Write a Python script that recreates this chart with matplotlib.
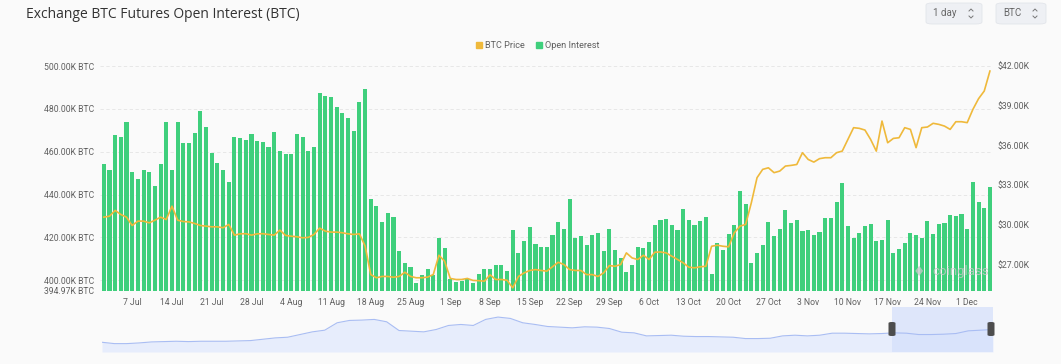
"""Exchange BTC futures open interest vs BTC price (coinglass style)."""

import matplotlib
matplotlib.use("Agg")
import matplotlib.pyplot as plt
import numpy as np
import pandas as pd
from matplotlib.lines import Line2D
from matplotlib.patches import FancyBboxPatch, Rectangle

# ---- data ----
dates = pd.date_range("2023-07-02", "2023-12-05", freq="D")

open_interest_k = [
    # Jul 2 - Jul 31
    454.2, 451.4, 467.6, 467.0, 473.8, 450.6, 447.2, 451.4, 450.3, 443.9,
    454.1, 473.8, 451.4, 473.8, 463.9, 463.9, 468.5, 479.1, 471.3, 459.5,
    454.5, 451.4, 445.9, 466.7, 466.4, 465.4, 468.4, 465.1, 464.3, 462.1,
    # Aug
    469.3, 460.4, 458.7, 458.9, 468.1, 466.7, 460.4, 462.0, 487.2, 486.1,
    485.3, 480.7, 477.9, 475.9, 469.6, 483.0, 489.1, 437.7, 434.6, 427.1,
    431.5, 429.3, 413.7, 408.1, 406.1, 398.9, 402.5, 405.1, 402.3, 419.8,
    415.0,
    # Sep
    400.6, 399.1, 399.5, 400.5, 398.7, 402.8, 405.1, 405.3, 407.0, 407.0,
    404.2, 423.5, 412.9, 418.1, 424.8, 416.7, 415.6, 415.6, 420.9, 427.1,
    423.8, 437.9, 419.8, 420.6, 416.5, 420.9, 422.1, 413.7, 423.8, 413.9,
    # Oct
    410.4, 403.7, 407.0, 415.6, 415.0, 417.9, 425.7, 428.0, 428.5, 425.7,
    423.4, 433.3, 428.0, 426.0, 427.6, 429.3, 402.8, 417.6, 414.0, 421.6,
    425.7, 441.7, 435.8, 408.1, 412.8, 416.4, 427.1, 420.6, 424.1, 432.7,
    426.5,
    # Nov
    428.0, 423.0, 423.4, 421.0, 422.6, 429.0, 429.1, 436.6, 445.3, 425.4,
    419.6, 422.1, 425.4, 426.2, 418.5, 418.7, 428.0, 412.9, 414.6, 417.3,
    422.0, 421.0, 419.6, 427.6, 421.6, 426.3, 426.5, 430.5, 429.9, 430.7,
    # Dec 1 - Dec 5
    423.7, 445.7, 436.6, 433.5, 443.3,
]

btc_price_k = [
    # Jul 2 - Jul 31
    30.58, 30.65, 31.09, 30.78, 30.58, 29.95, 30.28, 30.28, 30.15, 30.35,
    30.58, 30.40, 31.41, 30.35, 30.25, 30.22, 30.10, 29.95, 29.90, 29.85,
    29.85, 29.78, 30.03, 29.22, 29.32, 29.33, 29.22, 29.32, 29.33, 29.27,
    # Aug
    29.22, 29.60, 29.20, 29.14, 29.10, 29.02, 29.05, 29.27, 29.75, 29.52,
    29.45, 29.45, 29.40, 29.32, 29.27, 29.32, 28.40, 26.24, 26.00, 26.10,
    26.10, 26.04, 26.10, 26.42, 26.10, 26.00, 26.00, 26.05, 26.24, 27.70,
    27.25,
    # Sep
    25.95, 25.87, 25.87, 25.95, 25.80, 25.78, 25.74, 26.22, 25.87, 25.87,
    25.81, 25.24, 26.10, 26.37, 26.55, 26.62, 26.55, 26.50, 26.83, 27.17,
    27.00, 26.62, 26.55, 26.55, 26.24, 26.24, 26.10, 26.37, 26.92, 26.87,
    # Oct
    27.00, 27.88, 27.50, 27.38, 27.70, 27.38, 27.93, 27.95, 27.88, 27.63,
    27.38, 27.13, 26.80, 26.75, 26.83, 26.87, 28.38, 28.46, 28.38, 28.34,
    29.40, 29.90, 30.03, 31.67, 33.56, 34.19, 34.31, 33.94, 34.06, 34.44,
    34.49,
    # Nov
    34.56, 35.45, 34.94, 34.74, 35.00, 35.07, 35.07, 35.45, 35.57, 36.45,
    37.34, 37.29, 37.16, 36.45, 35.57, 37.84, 36.20, 36.53, 36.58, 37.34,
    37.21, 35.83, 37.34, 37.39, 37.67, 37.59, 37.46, 37.21, 37.79, 37.79,
    # Dec 1 - Dec 5
    37.72, 38.72, 39.53, 40.11, 41.62,
]

oi_ticks = [394.97, 400, 420, 440, 460, 480, 500]
price_ticks = [27, 30, 33, 36, 39, 42]
week_ticks = pd.date_range("2023-07-07", "2023-12-01", freq="7D")

# overview strip under the chart (relative height, evenly spaced samples)
overview = [
    29, 25, 25, 27, 30, 31, 32, 31, 32, 32, 32, 33, 34, 38, 42, 44, 52, 60,
    65, 87, 94, 95, 97, 90, 64, 62, 60, 67, 79, 82, 79, 97, 104, 100, 87, 82,
    76, 74, 72, 75, 74, 70, 59, 57, 48, 49, 50, 47, 46, 46, 45, 44, 40, 40,
    41, 48, 50, 48, 50, 56, 56, 55, 54, 55, 57, 56, 52, 52, 53, 55, 63, 65,
    67,
]

GREEN = "#3fcf7c"
GOLD = "#efb93b"
BG = "#fafafa"
TXT = "#5f5f5f"
W, H = 1061, 364


def box(x0, y0, x1, y1):
    return [x0 / W, 1 - y1 / H, (x1 - x0) / W, (y1 - y0) / H]


plt.rcParams["font.family"] = ["Roboto", "DejaVu Sans"]
fig = plt.figure(figsize=(W / 100, H / 100), dpi=100, facecolor=BG)

ax = fig.add_axes(box(100, 66, 993, 291))
ax.set_facecolor("none")
ax.bar(dates, open_interest_k, width=0.72, color=GREEN, zorder=2)
ax.set_xlim(dates[0] - pd.Timedelta(hours=16), dates[-1] + pd.Timedelta(hours=13))
ax.set_ylim(oi_ticks[0], 500)
ax.set_yticks(oi_ticks)
ax.set_yticklabels([f"{v:.2f}K BTC" for v in oi_ticks])
ax.set_xticks(week_ticks)
ax.set_xticklabels([f"{d.day} {d.strftime('%b')}" for d in week_ticks])
ax.tick_params(axis="both", length=0, labelsize=6.2, labelcolor=TXT)
ax.tick_params(axis="y", pad=4)
ax.tick_params(axis="x", pad=5)
ax.yaxis.grid(True, linestyle=(0, (4, 3)), color="#e4e4e4", linewidth=0.6)
ax.set_axisbelow(True)
for s in ax.spines.values():
    s.set_visible(False)

ax2 = ax.twinx()
ax2.plot(dates, btc_price_k, color=GOLD, linewidth=1.2, zorder=3)
ax2.set_ylim(25.0, 42.0)
ax2.set_yticks(price_ticks)
ax2.set_yticklabels([f"${v:.2f}K" for v in price_ticks])
ax2.tick_params(axis="y", length=0, labelsize=6.2, labelcolor=TXT, pad=3)
for s in ax2.spines.values():
    s.set_visible(False)

# title and controls
fig.text(26 / W, 1 - 14 / H, "Exchange BTC Futures Open Interest (BTC)",
         fontsize=10, color="#333333", va="center", ha="left",
         family=["Open Sans", "DejaVu Sans"])
for x0, x1, label in [(926, 982, "1 day"), (996, 1046, "BTC")]:
    fig.patches.append(FancyBboxPatch(
        (x0 / W, 1 - 24 / H), (x1 - x0) / W, 21 / H,
        boxstyle="round,pad=0,rounding_size=0.006", transform=fig.transFigure,
        facecolor="#eef0f4", edgecolor="#e2e5ea", linewidth=0.6))
    fig.text((x0 + 7) / W, 1 - 13.5 / H, label, fontsize=7, color="#666666",
             va="center", ha="left")
    cx = x1 - 11
    for y0, y1 in [(11, 9), (16, 18)]:
        fig.add_artist(Line2D([(cx - 2) / W, cx / W, (cx + 2) / W],
                              [1 - y0 / H, 1 - y1 / H, 1 - y0 / H],
                              transform=fig.transFigure, color="#777777", lw=0.7))

handles = [
    Line2D([], [], marker="s", linestyle="None", color=GOLD, markersize=5),
    Line2D([], [], marker="s", linestyle="None", color=GREEN, markersize=5),
]
fig.legend(handles, ["BTC Price", "Open Interest"], loc="center",
           bbox_to_anchor=(537 / W, 1 - 46 / H), ncol=2, frameon=False,
           fontsize=6.6, labelcolor=TXT, handletextpad=0.15, columnspacing=1.0,
           handlelength=1.0)

# watermark
fig.text(932 / W, 1 - 272 / H, "coinglass", fontsize=9.5, color="#c8c8c8",
         alpha=0.8, va="center", ha="left")
fig.text(919 / W, 1 - 272 / H, "\u2666", fontsize=10, color="#c8c8c8",
         alpha=0.8, va="center", ha="center")

# overview strip with selection window
axo = fig.add_axes(box(102, 307, 993, 352))
xo = np.arange(len(overview))
axo.fill_between(xo, 0, overview, color="#e7edfc", linewidth=0)
axo.plot(xo, overview, color="#a9bdf3", linewidth=0.8)
axo.set_xlim(0, len(overview) - 1)
axo.set_ylim(0, 134)
axo.axis("off")
sel0 = (892 - 102) / (993 - 102)
axo.add_patch(Rectangle((sel0, 0), 1 - sel0, 1, transform=axo.transAxes,
                        facecolor="#d5e0fb", alpha=0.75, linewidth=0))
for hx in (892, 991):
    fig.patches.append(FancyBboxPatch(
        ((hx - 3.5) / W, 1 - 336 / H), 7 / W, 14 / H,
        boxstyle="round,pad=0,rounding_size=0.003", transform=fig.transFigure,
        facecolor="#4d4d4d", edgecolor="none"))

fig.savefig("out.png", dpi=100, facecolor=BG)
